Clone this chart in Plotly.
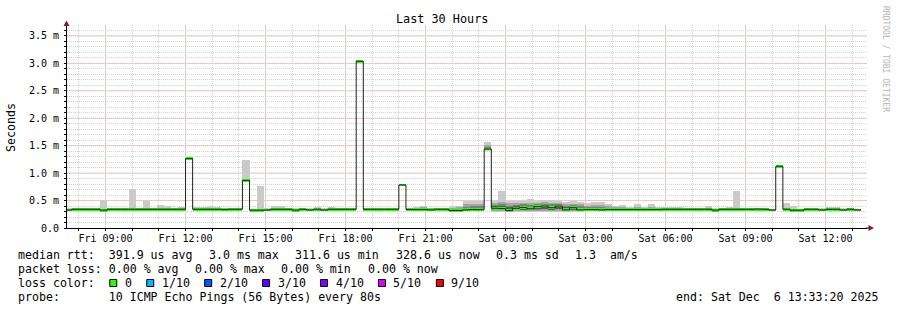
import plotly.graph_objects as go
import pandas as pd

# ---------------- data (ms) ----------------
bin_first_start = "2025-12-05 07:28:00"   # 960 s consolidated bins
range_start = "2025-12-05 07:33:20"
range_end = "2025-12-06 13:33:20"

median = [
    0.328, 0.342, 0.342, 0.342, 0.342, 0.325, 0.342, 0.342, 0.342, 0.342,
    0.342, 0.342, 0.342, 0.342, 0.342, 0.342, 0.342, 1.265, 0.342, 0.342,
    0.342, 0.342, 0.335, 0.342, 0.342, 0.868, 0.325, 0.325, 0.328, 0.342,
    0.342, 0.342, 0.325, 0.342, 0.328, 0.342, 0.328, 0.342, 0.342, 0.342,
    0.342, 3.040, 0.342, 0.342, 0.342, 0.342, 0.342, 0.785, 0.338, 0.335,
    0.335, 0.330, 0.342, 0.342, 0.320, 0.320, 0.330, 0.335, 0.335, 1.440,
    0.360, 0.355, 0.320, 0.360, 0.375, 0.350, 0.390, 0.400, 0.370, 0.400,
    0.330, 0.370, 0.330, 0.335, 0.335, 0.330, 0.335, 0.335, 0.335, 0.335,
    0.335, 0.335, 0.335, 0.335, 0.342, 0.342, 0.342, 0.342, 0.342, 0.342,
    0.342, 0.325, 0.342, 0.342, 0.342, 0.342, 0.342, 0.345, 0.342, 0.328,
    1.125, 0.342, 0.325, 0.325, 0.342, 0.342, 0.328, 0.342, 0.342, 0.328,
    0.342, 0.329,
]

smoke_max = [
    0.360, 0.365, 0.355, 0.365, 0.360, 0.516, 0.350, 0.365, 0.365, 0.717,
    0.360, 0.485, 0.360, 0.425, 0.410, 0.370, 0.390, 1.280, 0.390, 0.390,
    0.405, 0.380, 0.350, 0.360, 0.350, 1.246, 0.350, 0.760, 0.360, 0.410,
    0.400, 0.360, 0.360, 0.370, 0.360, 0.390, 0.360, 0.385, 0.355, 0.350,
    0.360, 3.050, 0.360, 0.370, 0.355, 0.360, 0.355, 0.800, 0.370, 0.380,
    0.410, 0.370, 0.350, 0.360, 0.400, 0.410, 0.485, 0.500, 0.500, 1.570,
    0.500, 0.680, 0.500, 0.500, 0.500, 0.520, 0.500, 0.510, 0.510, 0.500,
    0.480, 0.490, 0.480, 0.450, 0.470, 0.470, 0.440, 0.400, 0.420, 0.390,
    0.440, 0.390, 0.440, 0.390, 0.390, 0.390, 0.385, 0.360, 0.365, 0.360,
    0.400, 0.360, 0.370, 0.390, 0.668, 0.360, 0.365, 0.370, 0.370, 0.350,
    1.130, 0.460, 0.410, 0.350, 0.360, 0.370, 0.360, 0.385, 0.380, 0.370,
    0.365, 0.355,
]

smoke_min = [
    0.320, 0.330, 0.335, 0.335, 0.335, 0.315, 0.335, 0.335, 0.335, 0.335,
    0.335, 0.335, 0.335, 0.335, 0.335, 0.335, 0.335, 1.250, 0.335, 0.335,
    0.335, 0.335, 0.325, 0.335, 0.335, 0.850, 0.315, 0.315, 0.320, 0.335,
    0.335, 0.335, 0.315, 0.335, 0.320, 0.335, 0.320, 0.335, 0.335, 0.335,
    0.335, 3.030, 0.335, 0.335, 0.335, 0.335, 0.335, 0.775, 0.325, 0.320,
    0.320, 0.320, 0.330, 0.330, 0.310, 0.310, 0.310, 0.310, 0.310, 1.410,
    0.300, 0.300, 0.300, 0.300, 0.300, 0.300, 0.300, 0.300, 0.300, 0.300,
    0.300, 0.300, 0.300, 0.310, 0.310, 0.310, 0.315, 0.315, 0.315, 0.320,
    0.320, 0.320, 0.320, 0.320, 0.335, 0.335, 0.335, 0.335, 0.335, 0.335,
    0.335, 0.315, 0.335, 0.335, 0.335, 0.335, 0.335, 0.335, 0.335, 0.320,
    1.115, 0.335, 0.315, 0.315, 0.335, 0.335, 0.320, 0.335, 0.335, 0.320,
    0.335, 0.320,
]

# inner ping layers, only where they show (busy period around midnight)
smoke_p9 = [None] * 48 + [
    0.360, 0.365, 0.390, 0.355, 0.345, 0.350, 0.370, 0.380, 0.430, 0.440,
    0.440, 1.520, 0.450, 0.470, 0.450, 0.450, 0.460, 0.460, 0.460, 0.470,
    0.460, 0.460, 0.440, 0.440, 0.430, 0.410, 0.420, 0.420, 0.400, 0.380,
    0.390, 0.370, 0.390, 0.370, 0.390, 0.370] + [None] * 28
smoke_p2 = [None] * 48 + [
    0.330, 0.325, 0.325, 0.325, 0.335, 0.335, 0.315, 0.315, 0.315, 0.320,
    0.320, 1.420, 0.310, 0.310, 0.305, 0.310, 0.310, 0.310, 0.310, 0.310,
    0.310, 0.310, 0.305, 0.310, 0.305, 0.315, 0.315, 0.315, 0.320, 0.320,
    0.320, 0.325, 0.325, 0.325, 0.325, 0.325] + [None] * 28
smoke_p8 = [None] * 48 + [
    0.350, 0.350, 0.370, 0.345, 0.343, 0.345, 0.350, 0.355, 0.390, 0.400,
    0.400, 1.480, 0.420, 0.430, 0.410, 0.420, 0.430, 0.420, 0.440, 0.440,
    0.430, 0.440, 0.410, 0.420, 0.400, 0.380, 0.390, 0.390, 0.370, 0.360,
    0.365, 0.355, 0.365, 0.355, 0.360, 0.355] + [None] * 28
smoke_p3 = [None] * 48 + [
    0.333, 0.330, 0.330, 0.327, 0.338, 0.338, 0.317, 0.317, 0.320, 0.325,
    0.325, 1.430, 0.320, 0.320, 0.310, 0.320, 0.330, 0.320, 0.330, 0.340,
    0.330, 0.340, 0.315, 0.320, 0.315, 0.320, 0.320, 0.320, 0.325, 0.325,
    0.325, 0.330, 0.330, 0.330, 0.330, 0.330] + [None] * 28
smoke_p7 = [None] * 56 + [
    0.360, 0.370, 0.370, 1.460, 0.400, 0.400, 0.380, 0.400, 0.410, 0.390,
    0.420, 0.420, 0.410, 0.420, 0.380, 0.400, 0.370, 0.355, 0.360, 0.355,
    0.350, 0.345, 0.350, 0.345, 0.350, 0.345, 0.345, 0.345] + [None] * 28
smoke_p4 = [None] * 56 + [
    0.325, 0.328, 0.328, 1.435, 0.325, 0.325, 0.312, 0.325, 0.335, 0.325,
    0.340, 0.350, 0.335, 0.350, 0.318, 0.330, 0.318, 0.325, 0.325, 0.322,
    0.328, 0.330, 0.330, 0.332, 0.332, 0.332, 0.332, 0.332] + [None] * 28

y_major_vals = [0.0, 0.5, 1.0, 1.5, 2.0, 2.5, 3.0, 3.5]
y_major_text = ["0.0", "0.5 m", "1.0 m", "1.5 m", "2.0 m", "2.5 m", "3.0 m", "3.5 m"]
y_minor_step = 0.1
y_max = 3.7

title_text = "Last 30 Hours"
y_title = "Seconds"
watermark = "RRDTOOL / TOBI OETIKER"
legend_line1 = ["median rtt:  391.9 us avg", "3.0 ms max", "311.6 us min",
                "328.6 us now", "0.3 ms sd", "1.3  am/s"]
legend_line2 = ["packet loss: 0.00 % avg", "0.00 % max", "0.00 % min", "0.00 % now"]
loss_label = "loss color:"
loss_items = ["0", "1/10", "2/10", "3/10", "4/10", "5/10", "9/10"]
loss_colors = ["#26ff00", "#00b8ff", "#0059ff", "#5e00ff", "#7e00ff", "#dd00ff", "#ff0000"]
probe_text = "probe:       10 ICMP Echo Pings (56 Bytes) every 80s"
end_text = "end: Sat Dec  6 13:33:20 2025"

# ---------------- figure ----------------
W, H = 897, 310
L, R, T, B = 67, 30, 25, 82
PW, PH = W - L - R, H - T - B
STEP = pd.Timedelta(minutes=16)
STEP_MS = 16 * 60 * 1000
MONO = "DejaVu Sans Mono"


def px(x):
    return (x - L) / PW


def py(y):
    return (H - B - y) / PH


def nb(s):
    return s.replace(" ", "\u00a0")


starts = pd.date_range(bin_first_start, periods=len(median), freq=STEP)
centers = starts + STEP / 2

fig = go.Figure()


def band(lo, hi, color):
    xs, base, h = [], [], []
    for c, a, b in zip(centers, lo, hi):
        if a is None or b is None:
            continue
        xs.append(c)
        base.append(a)
        h.append(b - a)
    fig.add_trace(go.Bar(x=xs, y=h, base=base, width=STEP_MS,
                         marker=dict(color=color, line=dict(width=0)),
                         hoverinfo="skip", showlegend=False))


band(smoke_min, smoke_max, "#cacaca")
band(smoke_p2, smoke_p9, "#a4a4a4")
band(smoke_p3, smoke_p8, "#7e7e7e")
band(smoke_p4, smoke_p7, "#585858")

# median line (black step)
fig.add_trace(go.Scatter(x=list(starts) + [starts[-1] + STEP], y=median + [median[-1]],
                         mode="lines", line=dict(color="#202020", width=1, shape="hv"),
                         hoverinfo="skip", showlegend=False))

# loss-colored median band
HALF = 0.026
fig.add_trace(go.Bar(x=centers, y=[2 * HALF] * len(median), base=[m - HALF for m in median],
                     width=STEP_MS, marker=dict(color=loss_colors[0], line=dict(width=0)),
                     hoverinfo="skip", showlegend=False))

# ---- grid: grey hourly / 0.1 ms, red every 3 h / 0.5 ms ----
hours = pd.date_range(pd.Timestamp(range_start).ceil("h"), pd.Timestamp(range_end), freq="h")
x_tickvals = [h.strftime("%Y-%m-%d %H:%M:%S") for h in hours]
x_ticktext = [h.strftime("%a %H:%M") if h.hour % 3 == 0 else "" for h in hours]
x_major = [h.strftime("%Y-%m-%d %H:%M:%S") for h in hours if h.hour % 3 == 0]
n_minor = int(round(y_max / y_minor_step))
y_tickvals = [round(i * y_minor_step, 2) for i in range(n_minor)]
y_ticktext = [y_major_text[y_major_vals.index(v)] if v in y_major_vals else "" for v in y_tickvals]

GREY_GRID = "#d2d2d2"
RED_GRID = "#f8c2c2"

fig.update_layout(
    width=W, height=H,
    margin=dict(l=L, r=R, t=T, b=B, pad=0),
    paper_bgcolor="white", plot_bgcolor="white",
    barmode="overlay", bargap=0, showlegend=False,
    font=dict(family=MONO, size=10, color="black"),
    xaxis=dict(type="date", range=[range_start, range_end],
               tickmode="array", tickvals=x_tickvals, ticktext=x_ticktext,
               showgrid=True, gridcolor=GREY_GRID, griddash="1px,1px", gridwidth=1,
               ticks="outside", ticklen=2, tickcolor="black", ticklabelstandoff=-1,
               showline=True, linecolor="black", linewidth=1, zeroline=False,
               tickfont=dict(family=MONO, size=10, color="black"),
               fixedrange=True),
    yaxis=dict(range=[0, y_max], tickmode="array", tickvals=y_tickvals, ticktext=y_ticktext,
               showgrid=True, gridcolor=GREY_GRID, griddash="1px,1px", gridwidth=1,
               ticks="outside", ticklen=2, tickcolor="black", ticklabelstandoff=3,
               showline=True, linecolor="black", linewidth=1, zeroline=False,
               tickfont=dict(family=MONO, size=10, color="black"),
               fixedrange=True),
)

ann = []
shapes = []

for xv in x_major:
    shapes.append(dict(type="line", xref="x", yref="paper", x0=xv, x1=xv, y0=0, y1=1,
                       layer="between", line=dict(color=RED_GRID, width=1, dash="solid")))
for v in y_major_vals[1:]:
    shapes.append(dict(type="line", xref="paper", yref="y", x0=0, x1=1, y0=v, y1=v,
                       layer="between", line=dict(color=RED_GRID, width=1, dash="solid")))

ann.append(dict(x=px(442), y=py(19), xref="paper", yref="paper", text=nb(title_text),
                showarrow=False, xanchor="center", yanchor="middle",
                font=dict(family=MONO, size=11.8, color="black")))
ann.append(dict(x=px(11), y=py(127), xref="paper", yref="paper", text=y_title,
                showarrow=False, xanchor="center", yanchor="middle", textangle=-90,
                font=dict(family=MONO, size=11.6, color="black")))
ann.append(dict(x=px(886), y=py(59), xref="paper", yref="paper", text=nb(watermark),
                showarrow=False, xanchor="center", yanchor="middle", textangle=90,
                font=dict(family=MONO, size=8, color="#b4b4b4")))

CW = 6.98     # legend char advance
GAP = 16.5    # rrdtool legend item spacing
LEG_FONT = dict(family=MONO, size=11.6, color="black")


def text_at(x, y, s, anchor="left"):
    ann.append(dict(x=px(x), y=py(y), xref="paper", yref="paper", text=nb(s),
                    showarrow=False, xanchor=anchor, yanchor="middle", font=LEG_FONT))


x = 16
for s in legend_line1:
    text_at(x, 255, s)
    x += len(s) * CW + GAP

x = 16
for s in legend_line2:
    text_at(x, 268.5, s)
    x += len(s) * CW + GAP

text_at(16, 282.5, loss_label)
x = 16 + len(loss_label) * CW + GAP
for s, c in zip(loss_items, loss_colors):
    shapes.append(dict(type="rect", xref="paper", yref="paper",
                       x0=px(x + 0.5), x1=px(x + 7.5), y0=py(286.5), y1=py(279.5),
                       fillcolor=c, line=dict(color="black", width=1)))
    text_at(x + 13.5, 282.5, s)
    x += 13.5 + len(s) * CW + GAP

text_at(16, 296.5, probe_text)
text_at(880, 296.5, end_text, anchor="right")

# axis arrows
ARROW = "#8b1c1c"
shapes.append(dict(type="path", xref="paper", yref="paper",
                   path=f"M {px(66.5)},{py(20.5)} L {px(63.5)},{py(26)} L {px(69.5)},{py(26)} Z",
                   fillcolor=ARROW, line=dict(color=ARROW, width=0)))
shapes.append(dict(type="line", xref="paper", yref="paper",
                   x0=px(866), x1=px(869), y0=py(228), y1=py(228),
                   line=dict(color="black", width=1)))
shapes.append(dict(type="path", xref="paper", yref="paper",
                   path=f"M {px(874)},{py(228)} L {px(868.5)},{py(225)} L {px(868.5)},{py(231)} Z",
                   fillcolor=ARROW, line=dict(color=ARROW, width=0)))

fig.update_layout(annotations=ann, shapes=shapes)
fig.write_html("out.html")
